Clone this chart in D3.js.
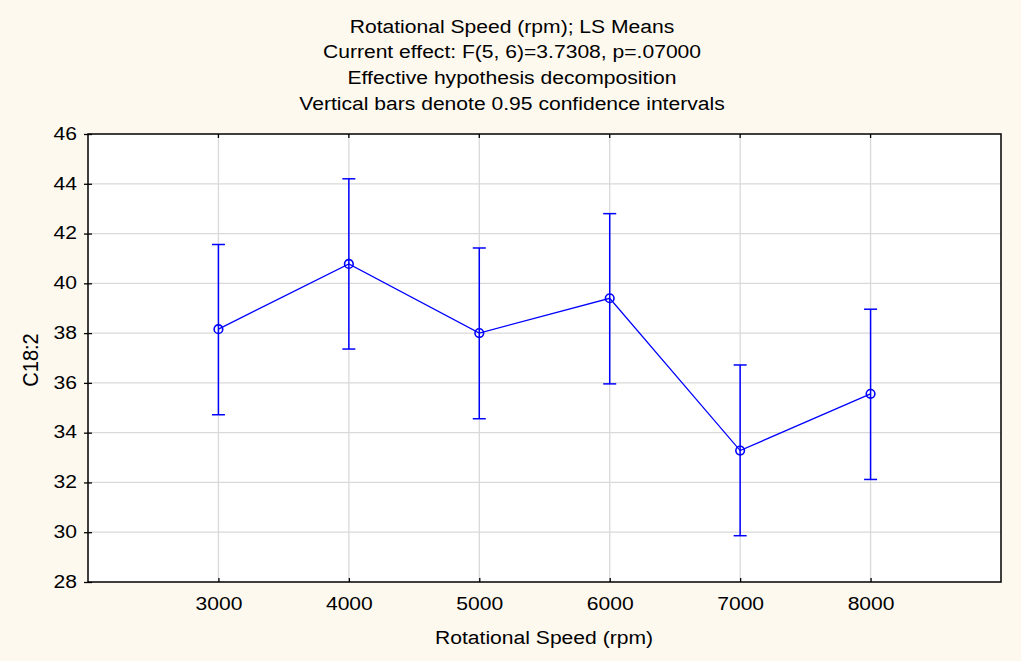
<!DOCTYPE html>
<html><head><meta charset="utf-8">
<script src="https://cdn.jsdelivr.net/npm/d3@7/dist/d3.min.js"></script>
<style>body{margin:0;background:#fef9ef;} svg{display:block;font-family:"Liberation Sans",Arial,sans-serif;}</style>
</head><body>
<script>
const categories = [3000, 4000, 5000, 6000, 7000, 8000];
const means = [38.16, 40.78, 38.0, 39.4, 33.28, 35.56];
const upper = [41.56, 44.2, 41.42, 42.8, 36.72, 38.96];
const lower = [34.72, 37.36, 34.56, 35.96, 29.86, 32.12];
const yTicks = [28, 30, 32, 34, 36, 38, 40, 42, 44, 46];
const titleLines = ["Rotational Speed (rpm); LS Means", "Current effect: F(5, 6)=3.7308, p=.07000", "Effective hypothesis decomposition", "Vertical bars denote 0.95 confidence intervals"];

const W = 1021, H = 661;
const m = {l: 88, r: 1001, t: 134, b: 582};
const FS = 19, SX = 1.11;
const svg = d3.select("body").append("svg").attr("width", W).attr("height", H);
svg.append("rect").attr("width", W).attr("height", H).attr("fill", "#fef9ef");

const x = d3.scaleLinear().domain([2000, 9000]).range([m.l, m.r]);
const y = d3.scaleLinear().domain([28, 46]).range([m.b, m.t]);

svg.append("rect").attr("x", m.l).attr("y", m.t).attr("width", m.r - m.l).attr("height", m.b - m.t).attr("fill", "#fff");

// grid
svg.append("g").selectAll("line").data(yTicks.slice(1, -1)).join("line")
  .attr("x1", m.l).attr("x2", m.r).attr("y1", d => y(d)).attr("y2", d => y(d))
  .attr("stroke", "#d9d9d9").attr("stroke-width", 1.3);
svg.append("g").selectAll("line").data(categories).join("line")
  .attr("y1", m.t).attr("y2", m.b).attr("x1", d => x(d)).attr("x2", d => x(d))
  .attr("stroke", "#d9d9d9").attr("stroke-width", 1.3);

// frame
svg.append("rect").attr("x", m.l).attr("y", m.t).attr("width", m.r - m.l).attr("height", m.b - m.t)
  .attr("fill", "none").attr("stroke", "#000").attr("stroke-width", 1.5);

// axes
const yAxis = d3.axisLeft(y).tickValues(yTicks).tickSizeInner(5).tickSizeOuter(0).tickPadding(6);
const gy = svg.append("g").attr("transform", `translate(${m.l},0)`).call(yAxis);
gy.select(".domain").remove();
gy.selectAll(".tick line").attr("x1", -4).attr("x2", 4).attr("stroke", "#000").attr("stroke-width", 1.3);
gy.selectAll("text").attr("font-size", FS).attr("fill", "#000").attr("font-family", "Liberation Sans, Arial, sans-serif")
  .attr("x", 0).attr("dy", "0.28em").attr("transform", `translate(-11,0) scale(${SX},1)`);

const xAxis = d3.axisBottom(x).tickValues(categories).tickSizeInner(0).tickSizeOuter(0).tickPadding(14.5).tickFormat(d3.format("d"));
const gx = svg.append("g").attr("transform", `translate(0,${m.b})`).call(xAxis);
gx.select(".domain").remove();
gx.selectAll(".tick line").attr("y1", -4).attr("y2", 0).attr("stroke", "#000").attr("stroke-width", 1.3);
gx.selectAll("text").attr("font-size", FS).attr("fill", "#000").attr("font-family", "Liberation Sans, Arial, sans-serif")
  .attr("transform", `scale(${SX},1)`);

// top ticks
svg.append("g").selectAll("line").data(categories).join("line")
  .attr("x1", d => x(d)).attr("x2", d => x(d)).attr("y1", m.t).attr("y2", m.t + 4)
  .attr("stroke", "#000").attr("stroke-width", 1.3);

const blue = "#0000ff";
const data = categories.map((c, i) => ({c, m: means[i], u: upper[i], l: lower[i]}));
// error bars
const eb = svg.append("g").attr("stroke", blue).attr("stroke-width", 1.5);
eb.selectAll(".v").data(data).join("line").attr("x1", d => x(d.c)).attr("x2", d => x(d.c))
  .attr("y1", d => y(d.u)).attr("y2", d => y(d.l));
eb.selectAll(".t").data(data).join("line").attr("x1", d => x(d.c) - 6.5).attr("x2", d => x(d.c) + 6.5)
  .attr("y1", d => y(d.u)).attr("y2", d => y(d.u));
eb.selectAll(".b").data(data).join("line").attr("x1", d => x(d.c) - 6.5).attr("x2", d => x(d.c) + 6.5)
  .attr("y1", d => y(d.l)).attr("y2", d => y(d.l));

svg.append("path").datum(data).attr("fill", "none").attr("stroke", blue).attr("stroke-width", 1.3)
  .attr("d", d3.line().x(d => x(d.c)).y(d => y(d.m)));
svg.append("g").selectAll("circle").data(data).join("circle")
  .attr("cx", d => x(d.c)).attr("cy", d => y(d.m)).attr("r", 4.3)
  .attr("fill", "none").attr("stroke", blue).attr("stroke-width", 1.6);

// titles
svg.append("g").selectAll("text").data(titleLines).join("text")
  .attr("transform", (d, i) => `translate(512,${32.7 + i * 25.7}) scale(${SX},1)`).attr("text-anchor", "middle")
  .attr("font-size", FS).attr("fill", "#000").text(d => d);

svg.append("text").attr("transform", `translate(544,644) scale(${SX},1)`).attr("text-anchor", "middle")
  .attr("font-size", FS).attr("fill", "#000").text("Rotational Speed (rpm)");
svg.append("text").attr("transform", `translate(37.5,360) scale(${SX},1) rotate(-90)`).attr("text-anchor", "middle")
  .attr("font-size", 20).attr("fill", "#000").text("C18:2");
</script>
</body></html>
